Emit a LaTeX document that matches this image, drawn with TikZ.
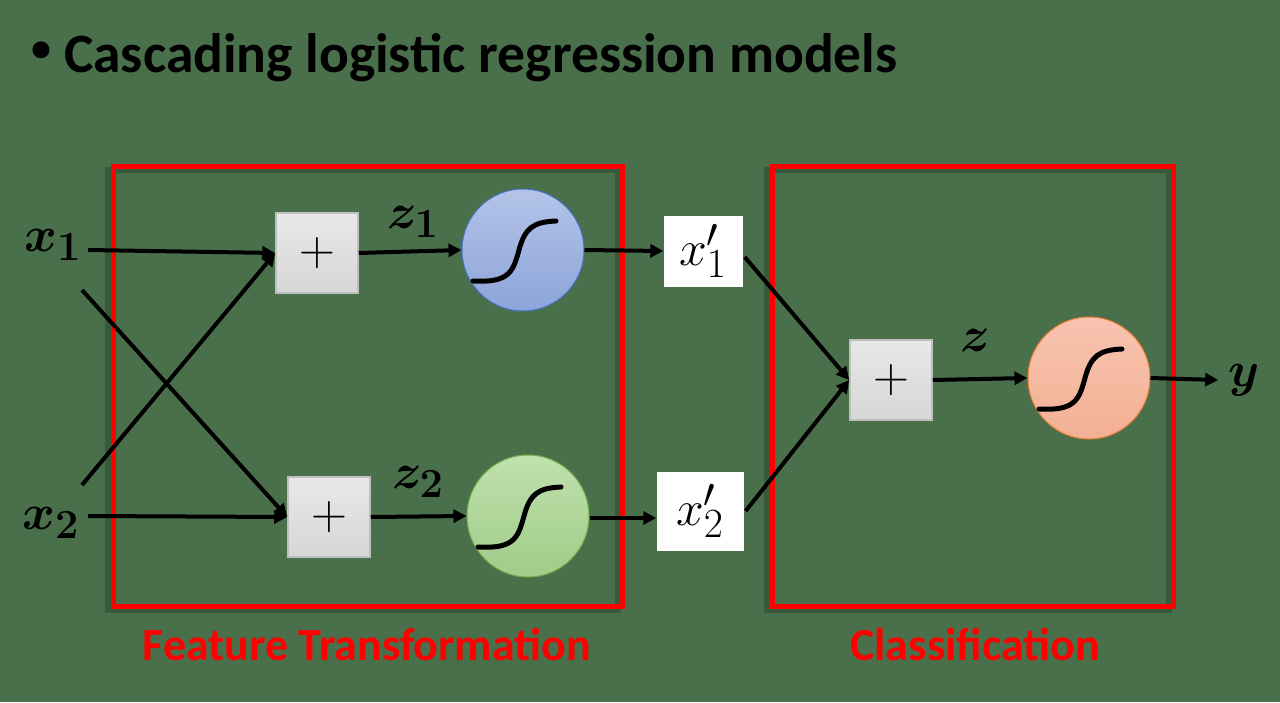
\documentclass[tikz,border=0pt]{standalone}
\usepackage{graphicx}
\usepackage[no-math]{fontspec}
\setmainfont{Carlito}
\usetikzlibrary{arrows.meta,calc}
\newcommand{\bigmath}[1]{\scalebox{2}{\Huge$#1$}}
\newcommand{\bigbmath}[1]{\scalebox{2}{\Huge\boldmath$#1$}}
\definecolor{bg}{RGB}{74,112,75}
\definecolor{boxred}{RGB}{255,0,0}
\definecolor{shadowc}{RGB}{45,75,48}
\definecolor{bluetop}{RGB}{180,196,232}
\definecolor{bluebot}{RGB}{140,164,218}
\definecolor{blueedge}{RGB}{68,114,196}
\definecolor{greentop}{RGB}{192,224,174}
\definecolor{greenbot}{RGB}{160,204,136}
\definecolor{greenedge}{RGB}{112,173,71}
\definecolor{orangetop}{RGB}{248,196,176}
\definecolor{orangebot}{RGB}{242,176,148}
\definecolor{orangeedge}{RGB}{237,125,49}
\begin{document}
\begin{tikzpicture}[x=1pt,y=-1pt,
  plusbox/.style={draw=gray!50,line width=1.5pt,top color=gray!18,bottom color=gray!32,
    minimum width=82pt,minimum height=80pt,inner sep=0pt},
  sigma/.style={circle,line width=1pt,minimum size=122pt,inner sep=0pt},
  wbox/.style={fill=white,inner sep=0pt},
  mlabel/.style={inner sep=0pt},
  arr/.style={line width=4pt,-{Triangle[length=13pt,width=13pt]}},
  redframe/.style={draw=boxred,line width=5pt},
  framesh/.style={draw=shadowc,line width=6pt,opacity=0.6},
  redlabel/.style={text=boxred,anchor=base,inner sep=0pt,font=\fontsize{46}{50}\selectfont\bfseries},
  sigmoidcurve/.pic={\draw[line width=5pt,line cap=round] (-50,31) .. controls (-14,33) and (-10,22) .. (-4,0) .. controls (2,-22) and (10,-28) .. (33,-29);}
]
\fill[bg] (0,0) rectangle (1280,702);
\useasboundingbox (0,0) rectangle (1280,702);

% title
\node[inner sep=0pt,font=\fontsize{40}{40}\selectfont\bfseries] (bul) at (41,52) {•};
\node[inner sep=0pt,anchor=base west,font=\fontsize{55.5}{60}\selectfont\bfseries] (title) at (64,72) {Cascading logistic regression models};

% frames
\draw[framesh] (108,170) rectangle (618,610);
\draw[framesh] (767,170) rectangle (1169,610);
\draw[redframe] (113,166) rectangle (622,606);
\draw[redframe] (772,166) rectangle (1173,606);

% nodes
\node[mlabel] (x1) at (53,245) {\bigbmath{x_1}};
\node[mlabel] (x2) at (51,523) {\bigbmath{x_2}};
\node[plusbox] (p1) at (317,253) {\bigmath{+}};
\node[plusbox] (p2) at (329,517) {\bigmath{+}};
\node[plusbox] (p3) at (891,380) {\bigmath{+}};
\node[sigma,draw=blueedge,top color=bluetop,bottom color=bluebot] (c1) at (523,250) {};
\node[sigma,draw=greenedge,top color=greentop,bottom color=greenbot] (c2) at (528,516) {};
\node[sigma,draw=orangeedge,top color=orangetop,bottom color=orangebot] (c3) at (1089,378) {};
\pic at (c1) {sigmoidcurve};
\pic at (c2) {sigmoidcurve};
\pic at (c3) {sigmoidcurve};
\node[wbox,minimum width=79pt,minimum height=71pt] (xp1) at (703,251) {\bigmath{x'_1}};
\node[wbox,minimum width=87pt,minimum height=79pt] (xp2) at (700,511) {\bigmath{x'_2}};
\node[mlabel] (z1) at (413,222) {\bigbmath{z_1}};
\node[mlabel] (z2) at (418,482) {\bigbmath{z_2}};
\node[mlabel] (z) at (975,340) {\bigbmath{z}};
\node[mlabel] (y) at (1244,380) {\bigbmath{y}};

% connectors
\draw[arr] ($(x1)+(35,5)$) -- (p1.west);
\draw[arr] ($(x2)+(37,-7)$) -- (p2.west);
\draw[arr] ($(x1)+(29,45)$) -- (p2.west);
\draw[arr] ($(x2)+(31,-38)$) -- (p1.west);
\draw[arr] (p1.east) -- (c1.west);
\draw[arr] (p2.east) -- (c2.west);
\draw[arr] (c1.east) -- (xp1.west);
\draw[arr] ($(c2.east)+(0,2)$) -- ($(xp2.west)+(0,7)$);
\draw[arr] ($(xp1.east)+(2,6)$) -- (p3.west);
\draw[arr] ($(xp2.east)+(2,0)$) -- (p3.west);
\draw[arr] (p3.east) -- (c3.west);
\draw[arr] (c3.east) -- ($(y.west)+(-10,0)$);

% labels
\node[redlabel] (lab1) at (367,660) {Feature Transformation};
\node[redlabel] (lab2) at (975,660) {Classification};
\end{tikzpicture}
\end{document}
